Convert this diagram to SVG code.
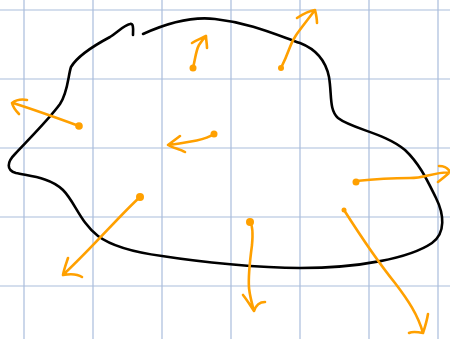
<svg xmlns="http://www.w3.org/2000/svg" width="450" height="339" viewBox="0 0 450 339">
<style>
.grid line{stroke:#a9bddc;stroke-width:1.2}
.outline{fill:none;stroke:#000;stroke-width:2.6;stroke-linecap:round;stroke-linejoin:round}
.arr path{fill:none;stroke:#ffa000;stroke-width:2.6;stroke-linecap:round;stroke-linejoin:round}
.arr circle{fill:#ffa000}
</style>
<rect width="450" height="339" fill="#fff"/>
<g class="grid" id="grid">
<line x1="24" y1="0" x2="24" y2="339"/>
<line x1="93" y1="0" x2="93" y2="339"/>
<line x1="162" y1="0" x2="162" y2="339"/>
<line x1="231" y1="0" x2="231" y2="339"/>
<line x1="300" y1="0" x2="300" y2="339"/>
<line x1="369" y1="0" x2="369" y2="339"/>
<line x1="438" y1="0" x2="438" y2="339"/>
<line x1="0" y1="10" x2="450" y2="10"/>
<line x1="0" y1="79" x2="450" y2="79"/>
<line x1="0" y1="148" x2="450" y2="148"/>
<line x1="0" y1="217" x2="450" y2="217"/>
<line x1="0" y1="286" x2="450" y2="286"/>
</g>
<g id="boundary">
<path class="outline" d="M143,34 C165,24 190,16 215,19 C250,23 272,33 300,43 C318,50 326,62 329,77 C332,95 329,110 338,118 C352,129 385,133 405,150 C420,164 428,182 436,198 C444,214 446,233 432,243 C410,258 360,268 300,268 C260,268 200,262 162,256 C132,252 110,245 98,236 C80,222 75,202 63,190 C50,177 28,176 16,173 C6,170 7,162 15,154 C30,138 50,118 60,104 C68,92 68,76 71,67 C78,55 95,45 110,37 C118,32 124,25 130,24 C134,23 133,30 133,35"/>
</g>
<g class="arr" id="arrows">
<g id="a1"><circle cx="193" cy="68" r="3.5"/><path d="M193,68 C195,60 196,50 199,45 C201,42 203,39 206,36 M192,43 C197,40 202,38 206,36 C206,40 207,44 207,48"/></g>
<g id="a2"><circle cx="79" cy="126" r="3.8"/><path d="M79,126 C60,119 35,110 13,103 M27,100 C22,99 16,100 12,103 C13,107 16,111 19,114"/></g>
<g id="a3"><circle cx="214" cy="134" r="3.5"/><path d="M214,134 C205,140 190,142 169,145 M180,136 C176,139 172,142 168,145 C173,148 180,149 185,152"/></g>
<g id="a4"><circle cx="281" cy="68" r="3"/><path d="M281,68 C284,62 287,55 290,47 C294,36 300,30 315,10 M297,18 C303,14 309,11 315,10 C316,14 317,19 317,23"/></g>
<g id="a5"><circle cx="356" cy="182" r="3.5"/><path d="M356,181 C375,179 395,178 410,178 C425,178 430,173 450,172 M439,166 C444,166 448,168 450,172 M450,172 C446,176 442,179 438,182"/></g>
<g id="a6"><circle cx="140" cy="197" r="4"/><path d="M140,197 C120,215 95,245 63,275 M68,258 C66,264 64,269 63,275 C69,274 76,273 82,277"/></g>
<g id="a7"><circle cx="250" cy="222" r="4"/><path d="M250,222 C253,226 253,234 252,245 C250,260 248,275 249,288 C250,297 252,304 254,311 M243,295 C247,300 250,305 254,311 C256,305 260,302 265,302"/></g>
<g id="a8"><circle cx="344" cy="210" r="2.5"/><path d="M344,210 C358,232 378,262 395,283 C408,300 418,315 423,333 M428,314 C427,320 425,327 423,333 C418,332 413,331 409,333"/></g>
</g>
</svg>
